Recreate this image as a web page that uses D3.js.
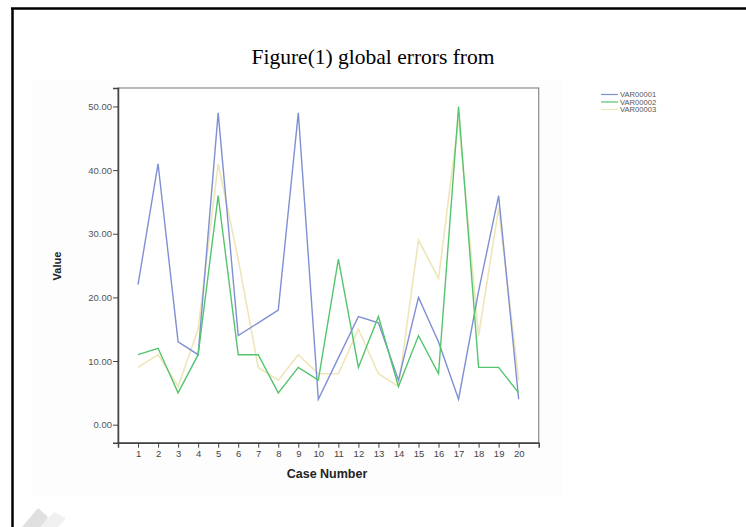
<!DOCTYPE html>
<html><head><meta charset="utf-8">
<script src="https://cdn.jsdelivr.net/npm/d3@7"></script>
<style>body{margin:0;background:#fff}svg{display:block}</style>
</head><body>
<script>
const cases = d3.range(1, 21);
const var1 = [22, 41, 13, 11, 49, 14, 16, 18, 49, 4, 10.5, 17, 16, 7, 20, 13, 4, 21, 36, 4];
const var2 = [11, 12, 5, 11, 36, 11, 11, 5, 9, 7, 26, 9, 17, 6, 14, 8, 50, 9, 9, 5];
const var3 = [9, 11, 6, 15, 41, 26, 9, 7, 11, 8, 8, 15, 8, 6, 29, 23, 48, 14, 34, 7];
const yTicks = [0, 10, 20, 30, 40, 50];
const seriesNames = ["VAR00001", "VAR00002", "VAR00003"];
const seriesColors = ["#7f8fd3", "#55c46e", "#eee6b8"];
const seriesData = [var1, var2, var3];

(function () {
const W = 746, H = 527;
const svg = d3.select("body").append("svg").attr("width", W).attr("height", H);

svg.append("line").attr("x1", 12.5).attr("x2", 12.5).attr("y1", 8).attr("y2", H).attr("stroke", "#000").attr("stroke-width", 2.5);
svg.append("line").attr("x1", 11).attr("x2", W).attr("y1", 8.5).attr("y2", 8.5).attr("stroke", "#000").attr("stroke-width", 2.5);

svg.append("rect").attr("x", 32).attr("y", 80).attr("width", 530).attr("height", 415).attr("fill", "#fdfdfd");

svg.append("path").attr("d", "M22,527 L38,508 L48,517 L42,527 Z").attr("fill", "#e0e0e0");
svg.append("path").attr("d", "M40,527 L54,512 L66,518 L58,527 Z").attr("fill", "#f0f0f0");

svg.append("text").attr("x", 373).attr("y", 64).attr("text-anchor", "middle")
  .attr("font-family", "Liberation Serif, Times New Roman, serif").attr("font-size", 21.5).attr("fill", "#000")
  .text("Figure(1) global errors from");

const pl = 118, pr = 538.7, pt = 88, pb = 442.7;
const x = d3.scaleLinear().domain([0, 21]).range([pl, pr]);
const y = d3.scaleLinear().domain([-2.83, 52.9]).range([pb, pt]);

const g = svg.append("g");
g.append("rect").attr("x", pl).attr("y", pt).attr("width", pr - pl).attr("height", pb - pt)
  .attr("fill", "#fff").attr("stroke", "#8a8a8a").attr("stroke-width", 1.2);

const yAxis = d3.axisLeft(y).tickValues(yTicks).tickSize(5).tickPadding(1).tickFormat(d3.format(".2f"));
const ya = g.append("g").attr("transform", `translate(${pl},0)`).call(yAxis);
ya.select(".domain").attr("stroke", "#444").attr("stroke-width", 1.5);
ya.selectAll(".tick line").attr("stroke", "#444");
ya.selectAll("text").attr("font-family", "Liberation Sans, Arial, sans-serif").attr("font-size", 9.5).attr("fill", "#555");

const xAxis = d3.axisBottom(x).tickValues(cases).tickSize(5).tickPadding(3).tickFormat(d3.format("d"));
const xa = g.append("g").attr("transform", `translate(0,${pb})`).call(xAxis);
xa.select(".domain").attr("stroke", "#444").attr("stroke-width", 1.5);
xa.selectAll(".tick line").attr("stroke", "#444");
xa.selectAll("text").attr("font-family", "Liberation Sans, Arial, sans-serif").attr("font-size", 9.5).attr("fill", "#444");

svg.append("text").attr("x", 327).attr("y", 478).attr("text-anchor", "middle")
  .attr("font-family", "Liberation Sans, Arial, sans-serif").attr("font-weight", "bold").attr("font-size", 12.5).attr("fill", "#222")
  .text("Case Number");
svg.append("text").attr("transform", "translate(61,266) rotate(-90)").attr("text-anchor", "middle")
  .attr("font-family", "Liberation Sans, Arial, sans-serif").attr("font-weight", "bold").attr("font-size", 11).attr("fill", "#222")
  .text("Value");

const line = d3.line().x((d, i) => x(cases[i])).y(d => y(d));
[2, 0, 1].forEach(k => {
  g.append("path").datum(seriesData[k]).attr("d", line).attr("fill", "none")
    .attr("stroke", seriesColors[k]).attr("stroke-width", k === 2 ? 1.6 : 1.4).attr("stroke-linejoin", "miter");
});

const lg = svg.append("g");
seriesNames.forEach((n, i) => {
  const yy = 94.5 + i * 7.5;
  lg.append("line").attr("x1", 601).attr("x2", 618).attr("y1", yy).attr("y2", yy).attr("stroke", seriesColors[i]).attr("stroke-width", 1.2);
  lg.append("text").attr("x", 620).attr("y", yy + 2.8).attr("font-family", "Liberation Sans, Arial, sans-serif")
    .attr("font-size", 7.6).attr("fill", "#555").text(n);
});
})();
</script>
</body></html>
